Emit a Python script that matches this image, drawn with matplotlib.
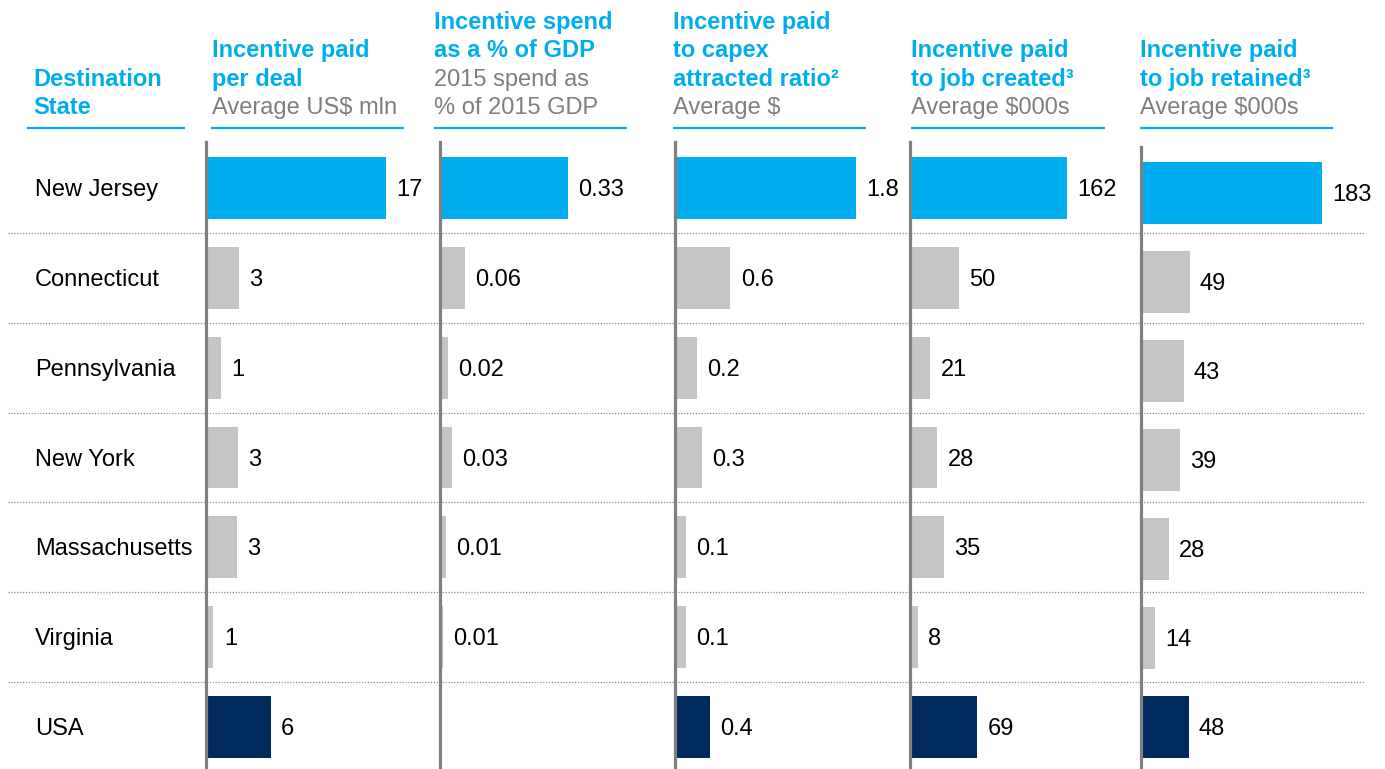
import matplotlib
matplotlib.use("Agg")
import matplotlib.pyplot as plt
from matplotlib.transforms import blended_transform_factory

plt.rcParams['font.family'] = ['Liberation Sans', 'DejaVu Sans']

# ---------------- data ----------------
states = ["New Jersey", "Connecticut", "Pennsylvania", "New York",
          "Massachusetts", "Virginia", "USA"]

deal_vals = [17, 3.1, 1.4, 3.0, 2.9, 0.7, 6.1]
deal_labels = ["17", "3", "1", "3", "3", "1", "6"]

gdp_vals = [0.33, 0.064, 0.02, 0.031, 0.015, 0.008, None]
gdp_labels = ["0.33", "0.06", "0.02", "0.03", "0.01", "0.01", ""]

capex_vals = [1.8, 0.55, 0.22, 0.27, 0.11, 0.11, 0.35]
capex_labels = ["1.8", "0.6", "0.2", "0.3", "0.1", "0.1", "0.4"]

created_vals = [162, 50, 21, 28, 35, 8, 69]
created_labels = ["162", "50", "21", "28", "35", "8", "69"]

retained_vals = [183, 49, 43, 39, 28, 14, 48]
retained_labels = ["183", "49", "43", "39", "28", "14", "48"]

headers = [
    [(None, None), (None, None), ("Destination", "b"), ("State", "b")],
    [(None, None), ("Incentive paid", "b"), ("per deal", "b"), ("Average US$ mln", "g")],
    [("Incentive spend", "b"), ("as a % of GDP", "b"), ("2015 spend as", "g"), ("% of 2015 GDP", "g")],
    [("Incentive paid", "b"), ("to capex", "b"), ("attracted ratio\u00b2", "b"), ("Average $", "g")],
    [(None, None), ("Incentive paid", "b"), ("to job created\u00b3", "b"), ("Average $000s", "g")],
    [(None, None), ("Incentive paid", "b"), ("to job retained\u00b3", "b"), ("Average $000s", "g")],
]

# ---------------- style ----------------
W, H = 1385, 769
BLUE = "#00AEEF"
GRAY_BAR = "#C5C5C5"
NAVY = "#002A5C"
GRAY_TXT = "#7F7F7F"
AXIS_GRAY = "#808080"
FS = 17

bar_colors = [BLUE] + [GRAY_BAR] * 5 + [NAVY]

fig = plt.figure(figsize=(W / 100, H / 100), dpi=100)

ov = fig.add_axes([0, 0, 1, 1], zorder=0)
ov.set_xlim(0, W)
ov.set_ylim(H, 0)
ov.axis("off")

panels = [
    (deal_vals, deal_labels, 206, 142, 18.9),
    (gdp_vals, gdp_labels, 440, 142, 0.516),
    (capex_vals, capex_labels, 675, 142, 1.99),
    (created_vals, created_labels, 910, 142, 206),
    (retained_vals, retained_labels, 1141, 147, 202),
]

axes = []
for vals, labels, left, top, xmax in panels:
    ax = fig.add_axes([left / W, 0, 200 / W, (H - top) / H], zorder=2)
    ax.patch.set_alpha(0)
    ax.set_xlim(0, xmax)
    ax.set_ylim(6.47, -0.515)
    for s in ["top", "right", "bottom"]:
        ax.spines[s].set_visible(False)
    ax.spines["left"].set_color(AXIS_GRAY)
    ax.spines["left"].set_linewidth(2.3)
    ax.set_xticks([])
    ax.set_yticks([])
    for i, (v, lab) in enumerate(zip(vals, labels)):
        if v is None:
            continue
        ax.barh(i, v, height=0.69, color=bar_colors[i], edgecolor="none", zorder=2)
        ax.annotate(lab, xy=(v, i), xytext=(7.5, -1.5), textcoords="offset points",
                    ha="left", va="center", fontsize=FS, color="black", annotation_clip=False)
    axes.append(ax)

ax1 = axes[0]
bt = blended_transform_factory(ov.transData, ax1.transData)

# row labels
for i, s in enumerate(states):
    ov.annotate(s, xy=(35, i), xycoords=bt, xytext=(0, -1.5), textcoords="offset points",
                ha="left", va="center", fontsize=FS, color="black")

# dotted separators
for i in range(len(states) - 1):
    ov.plot([8, 1365], [i + 0.5, i + 0.5], transform=bt, color="#8C8C8C",
            lw=0.9, linestyle=(0, (1, 1.3)), zorder=1)

# headers
baselines = [29, 57, 86, 114]
hx = [33, 212, 434, 673, 911, 1140]
ul = [(27, 185), (211, 404), (434, 627), (673, 866), (911, 1105), (1140, 1333)]
for col, lines in enumerate(headers):
    for li, (txt, st) in enumerate(lines):
        if txt is None:
            continue
        if st == "b":
            ov.text(hx[col], baselines[li], txt, ha="left", va="baseline", fontsize=FS,
                    fontweight="bold", color=BLUE, parse_math=False)
        else:
            ov.text(hx[col], baselines[li], txt, ha="left", va="baseline", fontsize=FS,
                    color=GRAY_TXT, parse_math=False)
    x0, x1 = ul[col]
    ov.plot([x0, x1], [128, 128], color=BLUE, lw=1.6, solid_capstyle="butt")

fig.savefig("out.png", dpi=100)
